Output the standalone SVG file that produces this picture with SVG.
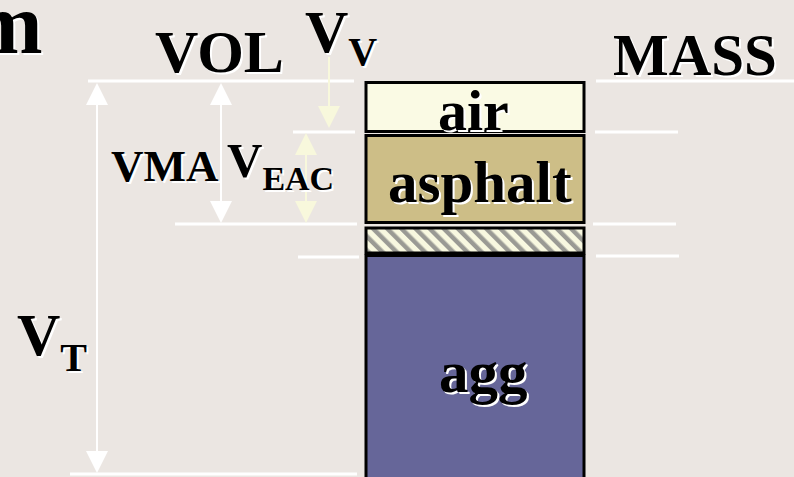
<svg xmlns="http://www.w3.org/2000/svg" width="794" height="477" viewBox="0 0 794 477">
<defs>
<pattern id="hatch" patternUnits="userSpaceOnUse" width="10" height="10" patternTransform="rotate(-45)">
<rect width="10" height="10" fill="#F8F8E0"/>
<rect width="4.5" height="10" fill="#9A9A94"/>
</pattern>
</defs>
<style>
.t{font-family:"Liberation Serif","Times New Roman",serif;font-weight:bold;fill:#000}
.s{font-family:"Liberation Serif","Times New Roman",serif;font-weight:bold;fill:#fff}
.wl{stroke:#FFFFFF;stroke-width:3;fill:none}
.al{stroke:#FFFFFF;stroke-width:2;fill:none}
.cl{stroke:#F8F8DC;stroke-width:2;fill:none}
.wa{fill:#FFFFFF}
.ca{fill:#F8F8DC}
.box{stroke:#000;stroke-width:3}
</style>
<rect width="794" height="477" fill="#EBE6E2"/>
<g id="connectors">
<line class="wl" x1="88" y1="81" x2="354" y2="81"/>
<line class="wl" x1="596" y1="81" x2="794" y2="81"/>
<line class="wl" x1="293" y1="132" x2="355" y2="132"/>
<line class="wl" x1="595" y1="132" x2="678" y2="132"/>
<line class="wl" x1="175" y1="224" x2="357" y2="224"/>
<line class="wl" x1="593" y1="224" x2="676" y2="224"/>
<line class="wl" x1="298" y1="257" x2="359" y2="257"/>
<line class="wl" x1="596" y1="256" x2="679" y2="256"/>
<line class="wl" x1="70" y1="474" x2="357" y2="474"/>
<g id="arrow-vt">
<line class="al" x1="97" y1="100" x2="97" y2="455"/>
<polygon class="wa" points="97,83 86,105 108,105"/>
<polygon class="wa" points="97,473 86,451 108,451"/>
</g>
<g id="arrow-vma">
<line class="al" x1="221" y1="100" x2="221" y2="205"/>
<polygon class="wa" points="221,83 210,105 232,105"/>
<polygon class="wa" points="221,223 210,201 232,201"/>
</g>
<g id="arrow-vv">
<line class="cl" x1="329" y1="57" x2="329" y2="110"/>
<polygon class="ca" points="329,128 318,106 340,106"/>
</g>
<g id="arrow-veac">
<line class="cl" x1="306" y1="150" x2="306" y2="208"/>
<polygon class="ca" points="306,133 295,155 317,155"/>
<polygon class="ca" points="306,223 295,201 317,201"/>
</g>
</g>
<g id="layer-air">
<rect class="box" x="366" y="82.5" width="218" height="49" fill="#FAFAE4"/>
<text class="s" x="440" y="132" font-size="58">air</text>
<text class="t" x="438" y="130" font-size="58">air</text>
</g>
<g id="layer-asphalt">
<rect class="box" x="366" y="135.5" width="218" height="87" fill="#CDBE87"/>
<text class="s" x="390" y="204" font-size="59">asphalt</text>
<text class="t" x="388" y="202" font-size="59">asphalt</text>
</g>
<g id="layer-absorbed">
<rect class="box" x="366" y="228" width="218" height="25" fill="url(#hatch)"/>
</g>
<g id="layer-agg">
<rect class="box" x="366" y="255.5" width="218" height="224" fill="#666699"/>
<text class="s" x="441" y="394" font-size="59">agg</text>
<text class="t" x="439" y="392" font-size="59">agg</text>
</g>
<g id="label-m">
<text class="s" x="-27" y="55" font-size="86">m</text>
<text class="t" x="-29" y="53" font-size="86">m</text>
</g>
<g id="label-vol">
<text class="s" x="157" y="74" font-size="60">VOL</text>
<text class="t" x="155" y="72" font-size="60">VOL</text>
</g>
<g id="label-vv">
<text class="s" x="307" y="54" font-size="60">V<tspan font-size="40" dy="13">V</tspan></text>
<text class="t" x="305" y="52" font-size="60">V<tspan font-size="40" dy="13">V</tspan></text>
</g>
<g id="label-mass">
<text class="s" x="615" y="77" font-size="59">MASS</text>
<text class="t" x="613" y="75" font-size="59">MASS</text>
</g>
<g id="label-vma">
<text class="s" x="113" y="183" font-size="45">VMA</text>
<text class="t" x="111" y="181" font-size="45">VMA</text>
</g>
<g id="label-veac">
<text class="s" x="229" y="179" font-size="49">V<tspan font-size="34" dy="13">EAC</tspan></text>
<text class="t" x="227" y="177" font-size="49">V<tspan font-size="34" dy="13">EAC</tspan></text>
</g>
<g id="label-vt">
<text class="s" x="19" y="357" font-size="60">V<tspan font-size="40" dy="16">T</tspan></text>
<text class="t" x="17" y="355" font-size="60">V<tspan font-size="40" dy="16">T</tspan></text>
</g>
</svg>
